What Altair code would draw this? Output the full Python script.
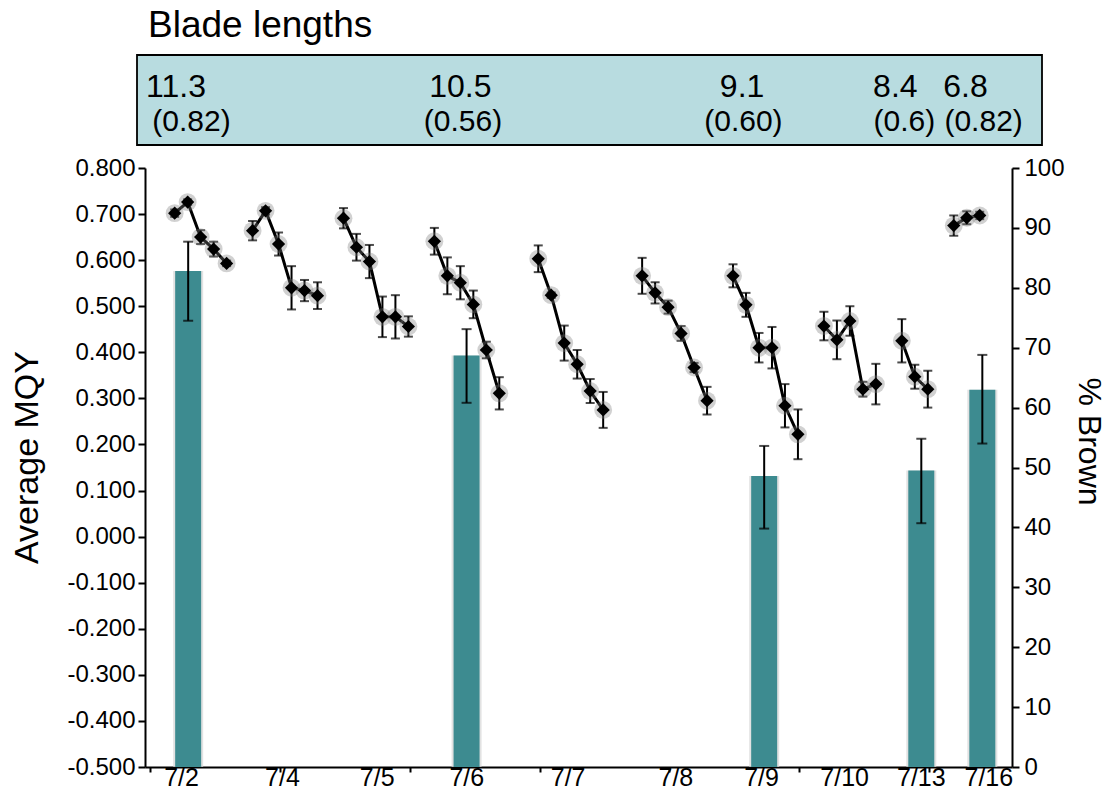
import altair as alt
import pandas as pd

# ---------------- data ----------------
dates = ["7/2", "7/4", "7/5", "7/6", "7/7", "7/8", "7/9", "7/10", "7/13", "7/16"]
group_start = [0, 6, 13, 20, 28, 36, 43, 50, 56, 60]
mqy = [
    [0.702, 0.726, 0.650, 0.624, 0.593],
    [0.664, 0.707, 0.635, 0.540, 0.534, 0.523],
    [0.691, 0.628, 0.597, 0.477, 0.477, 0.456],
    [0.641, 0.566, 0.551, 0.504, 0.405, 0.311],
    [0.603, 0.524, 0.420, 0.374, 0.316, 0.275],
    [0.566, 0.529, 0.498, 0.441, 0.367, 0.295],
    [0.566, 0.503, 0.410, 0.410, 0.284, 0.222],
    [0.457, 0.427, 0.468, 0.320, 0.331],
    [0.425, 0.347, 0.320],
    [0.675, 0.692, 0.697],
]
mqy_err = [
    [0.008, 0.006, 0.015, 0.016, 0.006],
    [0.021, 0.008, 0.025, 0.047, 0.023, 0.029],
    [0.022, 0.029, 0.036, 0.044, 0.047, 0.022],
    [0.029, 0.040, 0.036, 0.030, 0.018, 0.035],
    [0.029, 0.006, 0.038, 0.031, 0.026, 0.039],
    [0.039, 0.023, 0.014, 0.016, 0.010, 0.030],
    [0.025, 0.026, 0.032, 0.045, 0.047, 0.054],
    [0.031, 0.042, 0.032, 0.016, 0.044],
    [0.047, 0.026, 0.040],
    [0.022, 0.014, 0.008],
]

bar_dates = ["7/2", "7/6", "7/9", "7/13", "7/16"]
bar_pos = [1.04, 22.48, 45.4, 57.5, 62.2]
brown_pct = [82.8, 68.7, 48.6, 49.5, 63.0]
brown_lo = [74.5, 60.8, 39.8, 40.7, 54.0]
brown_hi = [87.7, 73.1, 53.6, 54.8, 68.8]

label_pos = [0.53, 8.3, 15.6, 22.5, 30.3, 38.6, 45.2, 51.6, 57.5, 62.7]

blade_len = ["11.3", "10.5", "9.1", "8.4", "6.8"]
blade_len_pos = [0.1, 22.0, 43.7, 55.5, 60.9]
blade_sd = ["(0.82)", "(0.56)", "(0.60)", "(0.6)", "(0.82)"]
blade_sd_pos = [1.3, 22.2, 43.8, 56.2, 62.3]

# ---------------- tables ----------------
rows = []
for d, s, vals, errs in zip(dates, group_start, mqy, mqy_err):
    for i, (v, e) in enumerate(zip(vals, errs)):
        rows.append({"date": d, "idx": s + i, "mqy": v, "lo": v - e, "hi": v + e})
pts = pd.DataFrame(rows)

bars = pd.DataFrame({"date": bar_dates, "idx": bar_pos, "pct": brown_pct,
                     "lo": brown_lo, "hi": brown_hi})
labels = pd.DataFrame({"label": dates, "idx": label_pos})
blade1 = pd.DataFrame({"t": blade_len, "idx": blade_len_pos})
blade2 = pd.DataFrame({"t": blade_sd, "idx": blade_sd_pos})

FONT = "Liberation Sans"
W, H = 867, 599
XDOM = [-1.9, 64.1]
x_axis = alt.Axis(values=[-1.9 + 10 * k for k in range(7)], labels=False, title=None,
                  grid=False, domainColor="black", domainWidth=2, tickColor="black",
                  tickWidth=2, tickSize=5)
xs = alt.Scale(domain=XDOM, nice=False, zero=False)

def X(field="idx"):
    return alt.X(f"{field}:Q", scale=xs, axis=x_axis)

# ---------- bars (right axis) ----------
ys_r = alt.Scale(domain=[0, 100], nice=False, zero=True)
y_axis_r = alt.Axis(orient="right", values=list(range(0, 101, 10)), format="d",
                    grid=False, domainColor="black", domainWidth=2, tickColor="black",
                    tickWidth=2, tickSize=7, labelFontSize=24, labelFont=FONT,
                    labelColor="black", labelPadding=5,
                    title="% Brown", titleFont=FONT, titleFontSize=32,
                    titleFontWeight="normal", titleColor="black", titleAngle=90,
                    titleX=76, titleY=273, titleAlign="center", titleBaseline="middle")

base_b = alt.Chart(bars)
bar_shadow = base_b.mark_bar(size=30, color="#d6d6d6", opacity=0.7).encode(
    x=X(), y=alt.Y("pct:Q", scale=ys_r, axis=y_axis_r))
bar_main = base_b.mark_bar(size=26, color="#3d8b90").encode(
    x=X(), y=alt.Y("pct:Q", scale=ys_r, axis=y_axis_r))
bar_err = base_b.mark_rule(color="black", strokeWidth=2).encode(
    x=X(), y=alt.Y("lo:Q", scale=ys_r, axis=y_axis_r), y2="hi:Q")
bar_cap_lo = base_b.mark_tick(orient="horizontal", size=10, thickness=2, color="black").encode(
    x=X(), y=alt.Y("lo:Q", scale=ys_r, axis=y_axis_r))
bar_cap_hi = base_b.mark_tick(orient="horizontal", size=10, thickness=2, color="black").encode(
    x=X(), y=alt.Y("hi:Q", scale=ys_r, axis=y_axis_r))
bar_layer = alt.layer(bar_shadow, bar_main, bar_err, bar_cap_lo, bar_cap_hi)

# ---------- points (left axis) ----------
ys_l = alt.Scale(domain=[-0.5, 0.8], nice=False, zero=False)
y_axis_l = alt.Axis(orient="left", values=[round(-0.5 + 0.1 * k, 1) for k in range(14)],
                    labelExpr="replace(format(datum.value, '.3f'), '\u2212', '-')",
                    grid=False, domainColor="black", domainWidth=2, tickColor="black",
                    tickWidth=2, tickSize=7, labelFontSize=24, labelFont=FONT,
                    labelColor="black", labelPadding=3,
                    title="Average MQY", titleFont=FONT, titleFontSize=34,
                    titleFontWeight="normal", titleColor="black", titleAngle=-90,
                    titleX=-118, titleY=289, titleAlign="center", titleBaseline="middle")

base_p = alt.Chart(pts)
p_err = base_p.mark_rule(color="black", strokeWidth=2).encode(
    x=X(), y=alt.Y("lo:Q", scale=ys_l, axis=y_axis_l), y2="hi:Q")
p_cap_lo = base_p.mark_tick(orient="horizontal", size=9, thickness=2, color="black").encode(
    x=X(), y=alt.Y("lo:Q", scale=ys_l, axis=y_axis_l))
p_cap_hi = base_p.mark_tick(orient="horizontal", size=9, thickness=2, color="black").encode(
    x=X(), y=alt.Y("hi:Q", scale=ys_l, axis=y_axis_l))
p_line = base_p.mark_line(color="black", strokeWidth=3).encode(
    x=X(), y=alt.Y("mqy:Q", scale=ys_l, axis=y_axis_l), detail="date:N")
p_halo = base_p.mark_point(shape="circle", filled=True, size=320, color="#7a7a7a",
                           opacity=0.35).encode(
    x=X(), y=alt.Y("mqy:Q", scale=ys_l, axis=y_axis_l))
p_pt = base_p.mark_point(shape="diamond", filled=True, size=175, color="black",
                         opacity=1).encode(
    x=X(), y=alt.Y("mqy:Q", scale=ys_l, axis=y_axis_l))
pt_layer = alt.layer(p_err, p_cap_lo, p_cap_hi, p_line, p_halo, p_pt)

# ---------- annotations ----------
one = pd.DataFrame({"a": [0]})
date_txt = alt.Chart(labels).mark_text(fontSize=25, font=FONT, color="black",
                                       align="center", baseline="middle").encode(
    x=X(), y=alt.value(H + 11), text="label:N")

box = alt.Chart(one).mark_rect(fill="#b8dce0", stroke="black", strokeWidth=1.8).encode(
    x=alt.value(-8), x2=alt.value(897), y=alt.value(-113), y2=alt.value(-23))
title_txt = alt.Chart(one).mark_text(fontSize=37, font=FONT, color="black",
                                     align="left", baseline="alphabetic").encode(
    x=alt.value(3), y=alt.value(-131), text=alt.value("Blade lengths"))
blade_txt1 = alt.Chart(blade1).mark_text(fontSize=32, font=FONT, color="black",
                                         align="center", baseline="alphabetic").encode(
    x=X(), y=alt.value(-71), text="t:N")
blade_txt2 = alt.Chart(blade2).mark_text(fontSize=30, font=FONT, color="black",
                                         align="center", baseline="alphabetic").encode(
    x=X(), y=alt.value(-37), text="t:N")

chart = alt.layer(
    bar_layer, pt_layer, date_txt, box, title_txt, blade_txt1, blade_txt2
).resolve_scale(y="independent").properties(
    width=W, height=H,
    autosize=alt.AutoSizeParams(type="none"),
    padding={"left": 145, "top": 168, "right": 97, "bottom": 34},
    background="white",
).configure_view(stroke=None)

chart.save("out.html", embed_options={"renderer": "svg", "actions": False})
